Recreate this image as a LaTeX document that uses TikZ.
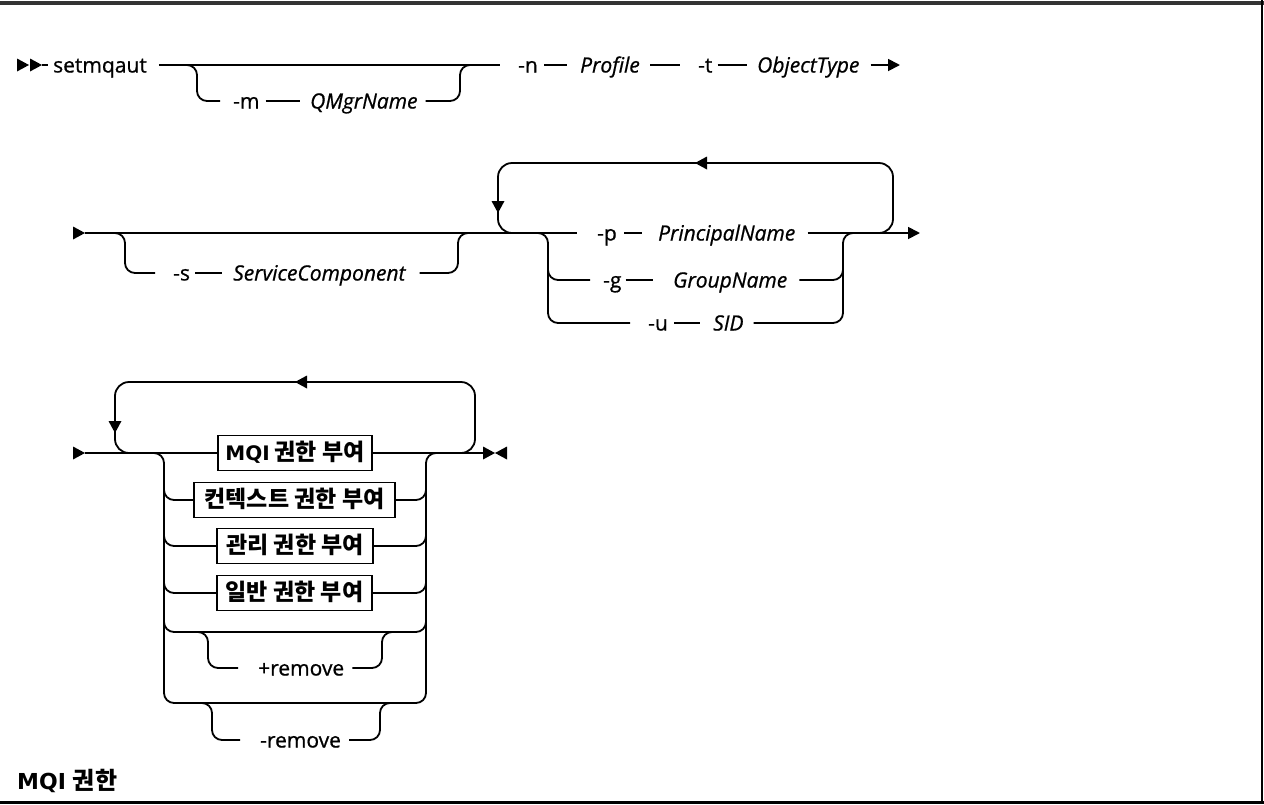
\documentclass[tikz,border=0pt]{standalone}
\usepackage{fontspec}
\setmainfont{Open Sans}[FakeBold=0.8]
\newfontfamily\fKR{Noto Sans CJK KR}
\newfontfamily\fDJ{DejaVu Sans}
\usetikzlibrary{arrows.meta}
\newcommand\lblsize{\fontsize{21}{25}\selectfont}
\newcommand\boxK[1]{{\fKR\bfseries\fontsize{23}{27}\selectfont #1}}
\newcommand\boxL[1]{{\fDJ\bfseries\fontsize{20}{24}\selectfont #1}}
\newcommand\titK[1]{{\fKR\bfseries\fontsize{24}{28}\selectfont #1}}
\newcommand\titL[1]{{\fDJ\bfseries\fontsize{22}{26}\selectfont #1}}
\newcommand\triR[2]{\fill (#1,#2) -- ++(-12,-6.5) -- ++(0,13) -- cycle;}
\newcommand\triL[2]{\fill (#1,#2) -- ++(12,-6.5) -- ++(0,13) -- cycle;}
\newcommand\triD[2]{\fill (#1,#2) -- ++(-6.5,-12) -- ++(13,0) -- cycle;}
\tikzset{
  rail/.style={line width=1.8pt, rounded corners=10pt},
  loopy/.style={line width=1.8pt, rounded corners=14pt},
  lbl/.style={inner sep=0pt, anchor=west, text height=15pt, text depth=0pt, font=\lblsize},
  ilbl/.style={lbl, font=\lblsize\itshape},
  kbox/.style={draw, line width=1.8pt, inner xsep=3pt, inner ysep=0pt, minimum height=35pt, text height=18pt, text depth=4pt},
  tip/.style={-{Triangle[length=12pt,width=12pt]}},
}
\begin{document}
\begin{tikzpicture}[x=1pt,y=-1pt]
\useasboundingbox (0,0) rectangle (1264,804);
% frame
\draw[line width=3.5pt, black!80] (0,3) -- (1264,3);
\draw[line width=2.5pt] (1262,0) -- (1262,804);
\draw[line width=3pt] (0,802) -- (1264,802);

% ---------- row 1
\triR{29}{65} \triR{42}{65}
\node[lbl] (setm) at (53,65) {setmqaut};
\node[lbl] (m) at (233,101) {-m};
\node[ilbl] (qm) at (310,101) {QMgrName};
\node[lbl] (n) at (518,65) {-n};
\node[ilbl] (prof) at (580,65) {Profile};
\node[lbl] (t) at (698,65) {-t};
\node[ilbl] (ot) at (757,65) {ObjectType};
\draw[rail] (42,65) -- ([xshift=-5pt]setm.west);
\draw[rail] ([xshift=12pt]setm.east) -- ([xshift=-18pt]n.west);
\draw[rail] (187,65) -- (197,65) -- (197,101) -- ([xshift=-13pt]m.west);
\draw[rail] ([xshift=6pt]m.east) -- ([xshift=-10pt]qm.west);
\draw[rail] ([xshift=8pt]qm.east) -- (460,101) -- (460,65) -- (470,65);
\draw[rail] ([xshift=6pt]n.east) -- ([xshift=-13pt]prof.west);
\draw[rail] ([xshift=10pt]prof.east) -- ([xshift=-18pt]t.west);
\draw[rail] ([xshift=5pt]t.east) -- ([xshift=-10pt]ot.west);
\draw[rail,tip] ([xshift=11pt]ot.east) -- (900,65);

% ---------- row 2
\triR{85}{233}
\node[lbl] (s) at (173,273) {-s};
\node[ilbl] (sc) at (233,273) {ServiceComponent};
\node[lbl] (p) at (597,233) {-p};
\node[ilbl] (pn) at (658,233) {PrincipalName};
\node[lbl] (g) at (603,280) {-g};
\node[ilbl] (gn) at (673,280) {GroupName};
\node[lbl] (u) at (648,323) {-u};
\node[ilbl] (sid) at (713,323) {SID};
\draw[rail] (85,233) -- ([xshift=-20pt]p.west);
\draw[rail] (113,233) -- (125,233) -- (125,273) -- ([xshift=-18pt]s.west);
\draw[rail] ([xshift=5pt]s.east) -- ([xshift=-11pt]sc.west);
\draw[rail] ([xshift=14pt]sc.east) -- (458,273) -- (458,233) -- (470,233);
\draw[loopy] (879,233) -- (893,233) -- (893,163) -- (498,163) -- (498,233) -- (512,233);
\triL{695}{163}
\triD{498}{213}
\draw[rail] (536,233) -- (548,233) -- (548,323) -- ([xshift=-18pt]u.west);
\draw[rail] (548,262) -- (548,280) -- ([xshift=-13pt]g.west);
\draw[rail] ([xshift=6pt]u.east) -- ([xshift=-13pt]sid.west);
\draw[rail] ([xshift=4pt]g.east) -- ([xshift=-20pt]gn.west);
\draw[rail] ([xshift=10pt]sid.east) -- (843,323) -- (843,233) -- (855,233);
\draw[rail] ([xshift=12pt]gn.east) -- (843,280) -- (843,262);
\draw[rail] ([xshift=7pt]p.east) -- ([xshift=-16pt]pn.west);
\draw[rail,tip] ([xshift=12pt]pn.east) -- (920,233);

% ---------- row 3
\triR{85}{453}
\node[kbox, minimum width=154pt] (mqi) at (295,453) {\boxL{MQI}\hspace{5pt}\boxK{권한 부여}};
\node[kbox, minimum width=201pt] (ctx) at (294.5,500) {\boxK{컨텍스트 권한 부여}};
\node[kbox, minimum width=156pt] (adm) at (295,546) {\boxK{관리 권한 부여}};
\node[kbox, minimum width=155pt] (gen) at (294.5,593) {\boxK{일반 권한 부여}};
\node[lbl] (prm) at (258,668) {+remove};
\node[lbl] (mrm) at (260,740) {-remove};
\draw[rail] (85,453) -- (mqi.west);
\draw[rail] (mqi.east) -- (483,453);
\triR{495}{453} \triL{495}{453}
\draw[loopy] (462,453) -- (475,453) -- (475,382) -- (115,382) -- (115,453) -- (129,453);
\triL{295}{382}
\triD{115}{433}
\draw[rail] (152,453) -- (164,453) -- (164,703) -- (426,703) -- (426,453) -- (438,453);
\draw[rail] (164,485) -- (164,500) -- (ctx.west);
\draw[rail] (ctx.east) -- (426,500) -- (426,485);
\draw[rail] (164,530) -- (164,546) -- (adm.west);
\draw[rail] (adm.east) -- (426,546) -- (426,530);
\draw[rail] (164,577) -- (164,593) -- (gen.west);
\draw[rail] (gen.east) -- (426,593) -- (426,577);
\draw[rail] (164,616) -- (164,632) -- (426,632) -- (426,616);
\draw[rail] (198,632) -- (208,632) -- (208,668) -- ([xshift=-20pt]prm.west);
\draw[rail] ([xshift=8pt]prm.east) -- (382,668) -- (382,632) -- (392,632);
\draw[rail] (202,703) -- (212,703) -- (212,740) -- ([xshift=-20pt]mrm.west);
\draw[rail] ([xshift=8pt]mrm.east) -- (380,740) -- (380,703) -- (390,703);

% ---------- footer
\node[anchor=base west, inner sep=0pt] (title) at (17,789) {\titL{MQI}\hspace{7pt}\titK{권한}};
\end{tikzpicture}
\end{document}
